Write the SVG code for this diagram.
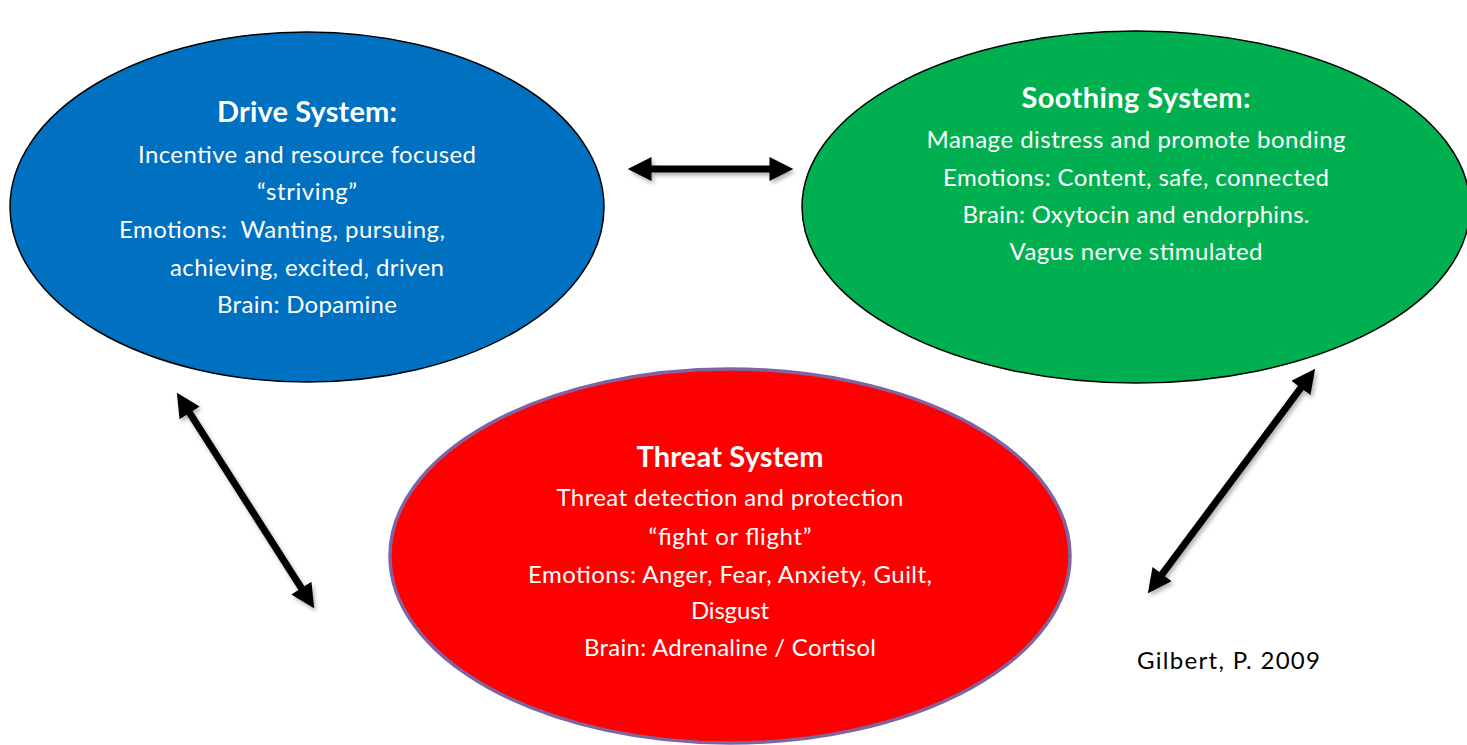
<svg xmlns="http://www.w3.org/2000/svg" width="1467" height="745" viewBox="0 0 1467 745">
  <style>
    .body { font-family: Lato, "Liberation Sans", sans-serif; font-size: 24px; fill: #ffffff; text-anchor: middle; }
    .title { font-family: Lato, "Liberation Sans", sans-serif; font-size: 29px; font-weight: bold; fill: #ffffff; text-anchor: middle; }
    .cite { font-family: Lato, "Liberation Sans", sans-serif; font-size: 24px; fill: #000000; }
    .link { stroke: #000000; stroke-width: 7; fill: none; marker-start: url(#head); marker-end: url(#head); filter: url(#shadow); }
  </style>
  <defs>
    <marker id="head" viewBox="0 0 10 10" refX="4" refY="5" markerWidth="3.5" markerHeight="3.4" orient="auto-start-reverse">
      <path d="M0,0 L10,5 L0,10 Z" fill="#000000"/>
    </marker>
    <filter id="shadow" filterUnits="userSpaceOnUse" x="0" y="0" width="1467" height="745">
      <feDropShadow dx="2" dy="3" stdDeviation="2" flood-color="#000000" flood-opacity="0.3"/>
    </filter>
  </defs>

  <rect width="1467" height="745" fill="#ffffff"/>

  <!-- Drive system -->
  <g id="drive">
    <ellipse cx="307" cy="207" rx="297" ry="175" fill="#0070C0" stroke="#000000" stroke-width="1.5"/>
    <text class="title" x="307" y="122" textLength="180">Drive System:</text>
    <text class="body" x="307" y="163" textLength="338">Incentive and resource focused</text>
    <text class="body" x="307" y="200" textLength="100">“striving”</text>
    <text class="body" x="119" y="238" style="text-anchor:start" textLength="326" xml:space="preserve">Emotions:  Wanting, pursuing,</text>
    <text class="body" x="170" y="276" style="text-anchor:start" textLength="274">achieving, excited, driven</text>
    <text class="body" x="307" y="313" textLength="180">Brain: Dopamine</text>
  </g>

  <!-- Soothing system -->
  <g id="soothing">
    <ellipse cx="1136" cy="207" rx="334" ry="176" fill="#00B050" stroke="#000000" stroke-width="1.5"/>
    <text class="title" x="1136" y="108" textLength="229">Soothing System:</text>
    <text class="body" x="1136" y="148" textLength="419">Manage distress and promote bonding</text>
    <text class="body" x="1136" y="186" textLength="386">Emotions: Content, safe, connected</text>
    <text class="body" x="1136" y="223" textLength="347">Brain: Oxytocin and endorphins.</text>
    <text class="body" x="1136" y="260" textLength="253">Vagus nerve stimulated</text>
  </g>

  <!-- Threat system -->
  <g id="threat">
    <ellipse cx="730" cy="556" rx="340" ry="187" fill="#FF0000" stroke="#8064A2" stroke-width="3.5"/>
    <text class="title" x="730" y="467" textLength="187">Threat System</text>
    <text class="body" x="730" y="506" textLength="347">Threat detection and protection</text>
    <text class="body" x="730" y="545" textLength="163">“fight or flight”</text>
    <text class="body" x="730" y="583" textLength="404">Emotions: Anger, Fear, Anxiety, Guilt,</text>
    <text class="body" x="730" y="619" textLength="78">Disgust</text>
    <text class="body" x="730" y="656" textLength="292">Brain: Adrenaline / Cortisol</text>
  </g>

  <!-- Connectors -->
  <g id="connectors">
    <line class="link" x1="642" y1="169" x2="779" y2="169"/>
    <line class="link" x1="184.5" y1="404.8" x2="306.5" y2="596.2"/>
    <line class="link" x1="1306.6" y1="380.2" x2="1156.4" y2="581.8"/>
  </g>

  <g id="citation">
    <text class="cite" x="1137" y="669" textLength="183">Gilbert, P. 2009</text>
  </g>
</svg>
